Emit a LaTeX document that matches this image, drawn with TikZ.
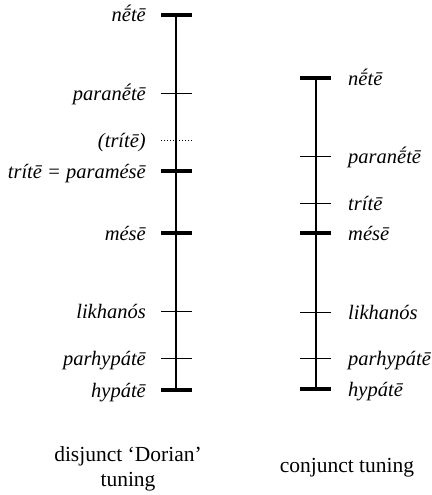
\documentclass[tikz,border=0pt]{standalone}
\usepackage{fontspec}
\setmainfont{Liberation Serif}
\begin{document}
\begin{tikzpicture}[x=1pt,y=-1pt,
  heavytick/.style={line width=4pt},
  lighttick/.style={line width=1pt},
  notename/.style={font=\fontsize{20.5}{24}\selectfont\itshape, inner sep=0pt},
  tuningname/.style={font=\fontsize{21.5}{25}\selectfont, align=center, inner sep=0pt}]
  \useasboundingbox (0,0) rectangle (431,495);
  % disjunct string
  \coordinate (dtop) at (176,15);
  \coordinate (dbot) at (176,390);
  \draw[line width=1.3pt] (dtop) -- (dbot);
  \foreach \y in {15,171,233,390} {
    \draw[heavytick] (161,\y) -- (192,\y);
  }
  \foreach \y in {93,311,358} {
    \draw[lighttick] (161,\y) -- (192,\y);
  }
  \draw[lighttick, dotted] (161,140) -- (192,140);
  % conjunct string
  \coordinate (ctop) at (316,78);
  \coordinate (cbot) at (316,389);
  \draw[line width=1.3pt] (ctop) -- (cbot);
  \foreach \y in {78,233,389} {
    \draw[heavytick] (300,\y) -- (331,\y);
  }
  \foreach \y in {156,203,312,358} {
    \draw[lighttick] (300,\y) -- (331,\y);
  }
  % names, disjunct
  \node[notename, anchor=base east] (dnete)  at (146,22)  {nḗtē};
  \node[notename, anchor=base east] (dparan) at (146,100) {paranḗtē};
  \node[notename, anchor=base east] (dtrite) at (146,147) {(trítē)};
  \node[notename, anchor=base east] (dparam) at (146,178) {trítē = paramésē};
  \node[notename, anchor=base east] (dmese)  at (146,240) {mésē};
  \node[notename, anchor=base east] (dlikh)  at (146,318) {likhanós};
  \node[notename, anchor=base east] (dparh)  at (146,365) {parhypátē};
  \node[notename, anchor=base east] (dhyp)   at (146,397) {hypátē};
  % names, conjunct
  \node[notename, anchor=base west] (cnete)  at (348,85)  {nḗtē};
  \node[notename, anchor=base west] (cparan) at (348,163) {paranḗtē};
  \node[notename, anchor=base west] (ctrite) at (348,210) {trítē};
  \node[notename, anchor=base west] (cmese)  at (348,240) {mésē};
  \node[notename, anchor=base west] (clikh)  at (348,319) {likhanós};
  \node[notename, anchor=base west] (cparh)  at (348,365) {parhypátē};
  \node[notename, anchor=base west] (chyp)   at (348,396) {hypátē};
  % captions
  \node[tuningname] (dcap) at (128,469) {disjunct ‘Dorian’\\tuning};
  \node[tuningname] (ccap) at (347,468) {conjunct tuning};
\end{tikzpicture}
\end{document}
